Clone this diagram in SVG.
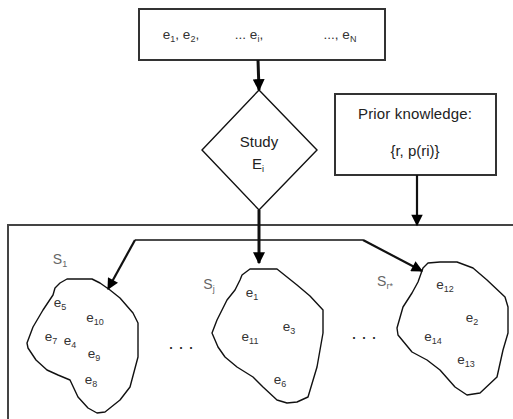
<svg xmlns="http://www.w3.org/2000/svg" width="513" height="419" viewBox="0 0 513 419">
<style>
text{font-family:"Liberation Sans",Arial,sans-serif;fill:#333}
.box{fill:#fff;stroke:#333;stroke-width:2}
.blob{fill:none;stroke:#111;stroke-width:1.4;stroke-linejoin:round}
.e{font-size:13.5px;text-anchor:middle}
.s{font-size:14px;fill:#666;text-anchor:middle}
.sub{font-size:9px}
.lbl{font-size:15px;text-anchor:middle;fill:#222}
.ln{fill:none;stroke:#111}
.dot{font-size:18px;text-anchor:middle;fill:#222}
</style>
<defs>
<marker id="ah" viewBox="0 0 10 10" refX="9" refY="5" markerWidth="4.2" markerHeight="4" orient="auto" markerUnits="strokeWidth">
<path d="M0,0 L10,5 L0,10 z" fill="#000"/>
</marker>
<marker id="ah2" viewBox="0 0 10 10" refX="9" refY="5" markerWidth="6" markerHeight="5.2" orient="auto" markerUnits="strokeWidth">
<path d="M0,0 L10,5 L0,10 z" fill="#000"/>
</marker>
</defs>

<g id="outer">
<rect x="8" y="225" width="530" height="220" fill="none" stroke="#444" stroke-width="2"/>
</g>

<g id="events">
<rect class="box" x="139" y="9" width="246" height="51"/>
<text class="e" x="181" y="39">e<tspan class="sub" dy="3">1</tspan><tspan dy="-3">, e</tspan><tspan class="sub" dy="3">2</tspan><tspan dy="-3">,</tspan></text>
<text class="e" x="249" y="39">... e<tspan class="sub" dy="3">i</tspan><tspan dy="-3">,</tspan></text>
<text class="e" x="340" y="39">..., e<tspan class="sub" dy="3">N</tspan></text>
</g>

<g id="study">
<path d="M259,90 L317,150 L259,210 L202,150 Z" fill="#fff" stroke="#111" stroke-width="1.4"/>
<text class="lbl" x="259" y="147">Study</text>
<text class="lbl" x="258" y="169">E<tspan class="sub" dy="3">i</tspan></text>
</g>

<g id="prior">
<rect class="box" x="335" y="94" width="161" height="81"/>
<text class="lbl" x="415" y="119" textLength="114">Prior knowledge:</text>
<text class="lbl" x="415" y="156">{r, p(ri)}</text>
</g>

<g id="connectors">
<line class="ln" x1="258" y1="60" x2="259" y2="90" stroke-width="3" marker-end="url(#ah)"/>
<line class="ln" x1="417" y1="175" x2="417" y2="225" stroke-width="2.2" marker-end="url(#ah2)"/>
<line class="ln" x1="259" y1="210" x2="259" y2="263" stroke-width="3" marker-end="url(#ah)"/>
<polyline class="ln" points="135,240 363,240" stroke-width="1.6"/>
<line class="ln" x1="135" y1="240" x2="108" y2="289" stroke-width="2.2" marker-end="url(#ah2)"/>
<line class="ln" x1="363" y1="240" x2="422" y2="271" stroke-width="2.2" marker-end="url(#ah2)"/>
</g>

<g id="S1">
<path class="blob" d="M67,279 L92,279 L100,283 L110,290 L120,298 L133,313 L138,323 L138,340 L138,357 L134,372 L130,387 L120,400 L105,412 L97,413 L88,408 L78,397 L70,380 L58,375 L47,370 L36,360 L28,348 L27,343 L33,327 L43,310 L53,295 L55,288 L60,283 Z"/>
<text class="s" x="60" y="264">S<tspan class="sub" dy="3">1</tspan></text>
<text class="e" x="60" y="307">e<tspan class="sub" dy="3">5</tspan></text>
<text class="e" x="95" y="322">e<tspan class="sub" dy="3">10</tspan></text>
<text class="e" x="51" y="341">e<tspan class="sub" dy="3">7</tspan></text>
<text class="e" x="70" y="345">e<tspan class="sub" dy="3">4</tspan></text>
<text class="e" x="94" y="358">e<tspan class="sub" dy="3">9</tspan></text>
<text class="e" x="91" y="384">e<tspan class="sub" dy="3">8</tspan></text>
</g>

<g id="Sj">
<path class="blob" d="M250,269 L277,269 L297,285 L310,296 L323,310 L323,333 L320,350 L317,367 L308,397 L297,402 L287,403 L277,400 L263,387 L253,377 L237,367 L225,357 L218,347 L212,333 L217,320 L227,300 L235,290 L240,280 L242,275 Z"/>
<text class="s" x="209" y="289">S<tspan class="sub" dy="3">j</tspan></text>
<text class="e" x="252" y="297">e<tspan class="sub" dy="3">1</tspan></text>
<text class="e" x="289" y="331">e<tspan class="sub" dy="3">3</tspan></text>
<text class="e" x="250" y="341">e<tspan class="sub" dy="3">11</tspan></text>
<text class="e" x="280" y="384">e<tspan class="sub" dy="3">6</tspan></text>
</g>

<g id="Sr">
<path class="blob" d="M423,268 L428,263 L440,262 L457,262 L473,268 L487,280 L505,297 L508,307 L508,333 L503,350 L497,377 L480,393 L467,395 L455,387 L440,370 L427,360 L412,352 L398,335 L397,328 L403,307 L412,293 L418,282 Z"/>
<text class="s" x="385" y="286">S<tspan class="sub" dy="3">r*</tspan></text>
<text class="e" x="445" y="289">e<tspan class="sub" dy="3">12</tspan></text>
<text class="e" x="472" y="322">e<tspan class="sub" dy="3">2</tspan></text>
<text class="e" x="433" y="341">e<tspan class="sub" dy="3">14</tspan></text>
<text class="e" x="466" y="364">e<tspan class="sub" dy="3">13</tspan></text>
</g>

<g id="dots">
<text class="dot" x="181" y="349">. . .</text>
<text class="dot" x="364" y="339">. . .</text>
</g>
</svg>
